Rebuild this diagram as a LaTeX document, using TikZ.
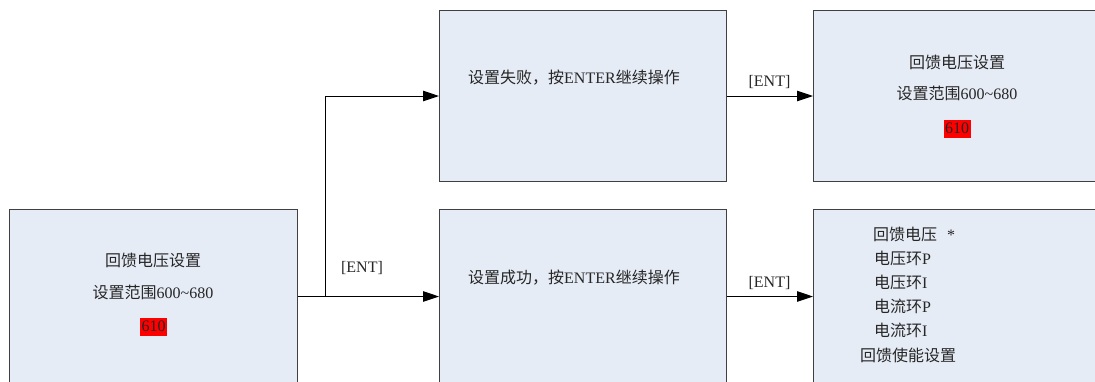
\documentclass[tikz,border=0pt]{standalone}
\usepackage{fontspec}
\setmainfont{Liberation Serif}
\newfontfamily\cjk{Noto Sans CJK SC}
\usetikzlibrary{arrows.meta}
\definecolor{boxfill}{HTML}{E6ECF6}
\definecolor{boxline}{HTML}{404040}
\definecolor{txt}{HTML}{262626}
\tikzset{
  box/.style={draw=boxline, line width=1pt, fill=boxfill, inner sep=0pt, anchor=north west},
  lbl/.style={font=\fontsize{16}{19}\selectfont, text=txt, inner sep=0pt},
  hl/.style={lbl, fill=red, inner xsep=1.5pt, minimum height=18pt, text height=12pt, text depth=4pt},
  arr/.style={draw=black, line width=1pt, -{Triangle[length=16pt,width=10.5pt]}}
}
\begin{document}
\begin{tikzpicture}[x=1pt,y=-1pt]
\useasboundingbox (0,0) rectangle (1095,381);
% boxes
\node[box, minimum width=288pt, minimum height=174pt] (A) at (9,209) {};
\node[box, minimum width=287pt, minimum height=171pt] (B) at (439,10) {};
\node[box, minimum width=287pt, minimum height=174pt] (C) at (439,209) {};
\node[box, minimum width=292pt, minimum height=171pt] (D) at (813,10) {};
\node[box, minimum width=292pt, minimum height=174pt] (E) at (813,209) {};
% box A texts
\node[lbl] (a1) at (153,260) {{\cjk 回馈电压设置}};
\node[lbl] (a2) at (153,292) {{\cjk 设置范围}600\textasciitilde680};
\node[hl] (a3) at (153.5,327) {610};
% box B / C texts
\node[lbl, anchor=west] (b1) at (468,78) {{\cjk 设置失败，按}ENTER{\cjk 继续操作}};
\node[lbl, anchor=west] (c1) at (468,278) {{\cjk 设置成功，按}ENTER{\cjk 继续操作}};
% box D texts
\node[lbl] (d1) at (957,62) {{\cjk 回馈电压设置}};
\node[lbl] (d2) at (957,93) {{\cjk 设置范围}600\textasciitilde680};
\node[hl] (d3) at (957,129) {610};
% box E texts
\node[lbl, anchor=west] (e1) at (873,234) {{\cjk 回馈电压}\hspace{10pt}*};
\node[lbl, anchor=west] (e2) at (874,258) {{\cjk 电压环}P};
\node[lbl, anchor=west] (e3) at (874,282) {{\cjk 电压环}I};
\node[lbl, anchor=west] (e4) at (874,306) {{\cjk 电流环}P};
\node[lbl, anchor=west] (e5) at (874,330) {{\cjk 电流环}I};
\node[lbl, anchor=west] (e6) at (860,355) {{\cjk 回馈使能设置}};
% connectors
\draw[arr] (A.east) -- (C.west);
\draw[arr] (A.east) -- ++(27,0) |- (B.west);
\draw[arr] (B.east) -- (D.west);
\draw[arr] (C.east) -- (E.west);
% labels
\node[lbl] (l1) at (362,268) {[ENT]};
\node[lbl] (l2) at (769.5,82) {[ENT]};
\node[lbl] (l3) at (769.5,283) {[ENT]};
\end{tikzpicture}
\end{document}
